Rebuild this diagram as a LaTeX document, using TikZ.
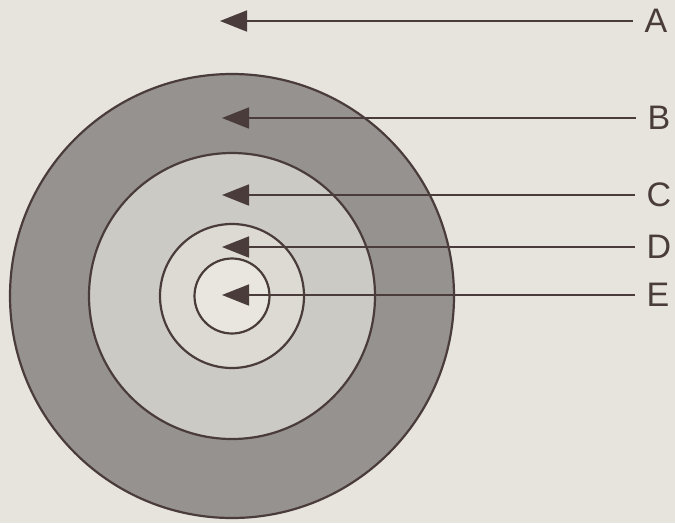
\documentclass[tikz,border=0pt]{standalone}
\usepackage{fontspec}
\setmainfont{Liberation Sans}
\usetikzlibrary{arrows.meta}
\definecolor{bg}{HTML}{E6E4DC}
\definecolor{ink}{HTML}{4A3C3A}
\definecolor{ringB}{HTML}{959290}
\definecolor{ringC}{HTML}{CCCAC4}
\definecolor{ringD}{HTML}{DCDAD3}
\definecolor{coreE}{HTML}{E8E6DF}
\tikzset{
  ring/.style={draw=ink, line width=2.2pt},
  lbl/.style={font=\fontsize{34}{34}\selectfont, text=ink, inner sep=0pt, outer sep=12pt},
  arr/.style={draw=ink, line width=1.8pt, -{Triangle[length=27pt,width=21pt]}}
}
\begin{document}
\begin{tikzpicture}[x=1pt,y=-1pt]
\fill[bg] (0,0) rectangle (675,523);
\useasboundingbox (0,0) rectangle (675,523);
\coordinate (ctr) at (232,296);
\fill[ringB] (ctr) circle (222);
\fill[ringC] (ctr) circle (143);
\fill[ringD] (ctr) circle (72);
\fill[coreE] (ctr) circle (37.5);
\draw[ring] (ctr) circle (222);
\draw[ring] (ctr) circle (143);
\draw[ring] (ctr) circle (72);
\draw[ring] (ctr) circle (37.5);
\node[lbl] (lA) at (656,21) {A};
\node[lbl] (lB) at (659,118) {B};
\node[lbl] (lC) at (659,195) {C};
\node[lbl] (lD) at (659,247) {D};
\node[lbl] (lE) at (658,295) {E};
\coordinate (tA) at (220,21);
\coordinate (tB) at (222,118);
\coordinate (tC) at (222,195);
\coordinate (tD) at (222,247);
\coordinate (tE) at (222,295);
\foreach \n in {A,B,C,D,E} {\draw[arr] (l\n) -- (t\n);}
\end{tikzpicture}
\end{document}
